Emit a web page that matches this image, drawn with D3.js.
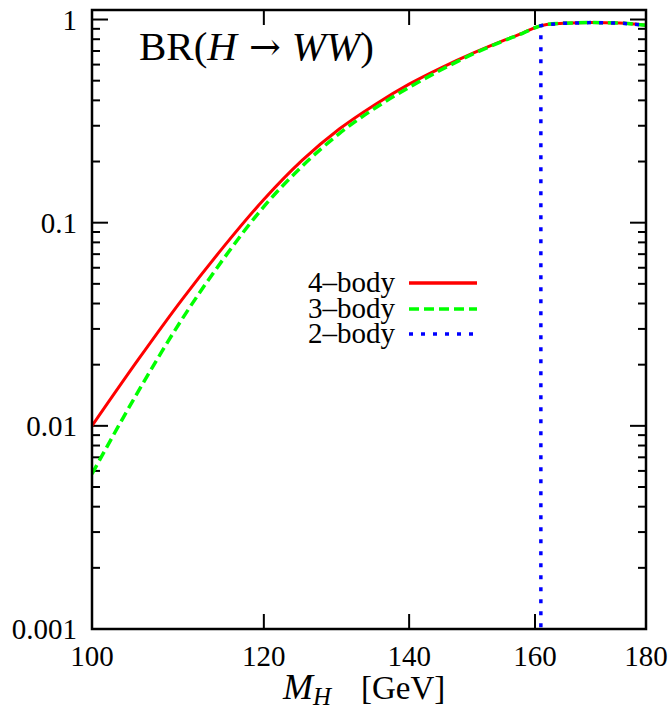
<!DOCTYPE html>
<html>
<head>
<meta charset="utf-8">
<script src="https://cdn.jsdelivr.net/npm/d3@7"></script>
<style>
body { margin: 0; background: #fff; }
text { font-family: "Liberation Serif", "DejaVu Serif", serif; fill: #000; }
</style>
</head>
<body>
<div id="chart"></div>
<script>
// Higgs mass points (GeV) and branching ratios
var massPoints = [100, 105, 110, 115, 120, 125, 130, 135, 140, 145, 150, 155, 158, 160, 162, 165, 170, 175, 180];
var br4body = [0.0100, 0.0211, 0.0417, 0.0762, 0.130, 0.203, 0.289, 0.381, 0.481, 0.582, 0.687, 0.794, 0.859, 0.912, 0.946, 0.958, 0.966, 0.961, 0.937];
var br3body = [0.0058, 0.0147, 0.0334, 0.0666, 0.120, 0.190, 0.2745, 0.366, 0.463, 0.569, 0.681, 0.791, 0.858, 0.911, 0.946, 0.958, 0.966, 0.961, 0.937];
// 2-body only opens above the WW threshold
var mass2body = [161, 161, 162, 165, 170, 175, 180];
var br2body = [0.00001, 0.932, 0.946, 0.958, 0.966, 0.961, 0.937];

var xTicks = [100, 120, 140, 160, 180];
var yTicks = [0.001, 0.01, 0.1, 1];
var yTickLabels = ["0.001", "0.01", "0.1", "1"];
var seriesNames = ["4\u2013body", "3\u2013body", "2\u2013body"];

var width = 672, height = 713;
var plot = {left: 92, right: 646, top: 10, bottom: 629}; // frame edges in px

var x = d3.scaleLog().domain([100, 180]).range([plot.left, plot.right]);
var y = d3.scaleLog().domain([0.001, 1.114]).range([plot.bottom, plot.top]);

var svg = d3.select("#chart").append("svg")
	.attr("width", width)
	.attr("height", height);

svg.append("defs").append("clipPath").attr("id", "clip")
	.append("rect")
		.attr("x", plot.left).attr("y", plot.top)
		.attr("width", plot.right - plot.left)
		.attr("height", plot.bottom - plot.top);

//minor ticks on y (2..9 in each decade)
var minor = [];
[0.001, 0.01, 0.1].forEach(function(dec) {
	for (var k = 2; k <= 9; k++) minor.push(dec * k);
});

var ticks = svg.append("g").attr("stroke", "#000").attr("stroke-width", 2);

// y ticks left and right
[plot.left, plot.right].forEach(function(x0) {
	var dir = x0 == plot.left ? 1 : -1;
	ticks.selectAll(null).data(yTicks).enter().append("line")
		.attr("x1", x0).attr("x2", x0 + dir * 16)
		.attr("y1", d => y(d)).attr("y2", d => y(d));
	ticks.selectAll(null).data(minor).enter().append("line")
		.attr("x1", x0).attr("x2", x0 + dir * 8)
		.attr("y1", d => y(d)).attr("y2", d => y(d));
});

// x ticks bottom and top
[plot.bottom, plot.top].forEach(function(y0) {
	var dir = y0 == plot.bottom ? -1 : 1;
	ticks.selectAll(null).data(xTicks).enter().append("line")
		.attr("x1", d => x(d)).attr("x2", d => x(d))
		.attr("y1", y0).attr("y2", y0 + dir * 15);
});

//curves
var line = d3.line()
	.x(d => x(d[0]))
	.y(d => y(d[1]))
	.curve(d3.curveMonotoneX);

var curves = svg.append("g").attr("clip-path", "url(#clip)").attr("fill", "none");

curves.append("path")
	.datum(massPoints.map((m, i) => [m, br4body[i]]))
	.attr("d", line)
	.attr("stroke", "#ff0000")
	.attr("stroke-width", 3);

curves.append("path")
	.datum(massPoints.map((m, i) => [m, br3body[i]]))
	.attr("d", line)
	.attr("stroke", "#00ff00")
	.attr("stroke-width", 3.5)
	.attr("stroke-dasharray", "10,5");

curves.append("path")
	.datum(mass2body.map((m, i) => [m, br2body[i]]))
	.attr("d", line.curve(d3.curveLinear))
	.attr("stroke", "#0000ff")
	.attr("stroke-width", 3.5)
	.attr("stroke-dasharray", "4,8");

//frame
svg.append("rect")
	.attr("x", plot.left).attr("y", plot.top)
	.attr("width", plot.right - plot.left)
	.attr("height", plot.bottom - plot.top)
	.attr("fill", "none")
	.attr("stroke", "#000")
	.attr("stroke-width", 2.5);

//tick labels
svg.selectAll(".xl").data(xTicks).enter().append("text")
	.attr("x", d => x(d))
	.attr("y", 666)
	.attr("text-anchor", "middle")
	.attr("font-size", 29)
	.text(d => d);

svg.selectAll(".yl").data(yTicks).enter().append("text")
	.attr("x", 77)
	.attr("y", d => y(d) + 10)
	.attr("text-anchor", "end")
	.attr("font-size", 29)
	.text((d, i) => yTickLabels[i]);

//axis title
var xt = svg.append("text")
	.attr("x", 283).attr("y", 699)
	.attr("font-size", 33);
xt.append("tspan").attr("font-style", "italic").attr("font-size", 36).text("M");
xt.append("tspan").attr("font-style", "italic").attr("font-size", 25).attr("dy", 6).text("H");
xt.append("tspan").attr("x", 361).attr("dy", -6).text("[GeV]");

//title
var tt = svg.append("text")
	.attr("x", 139).attr("y", 60)
	.attr("font-size", 41);
tt.append("tspan").text("BR(");
tt.append("tspan").attr("font-style", "italic").text("H");
tt.append("tspan").attr("font-family", "DejaVu Serif").attr("font-size", 38).attr("dx", 12).text("\u2192");
tt.append("tspan").attr("font-style", "italic").attr("dx", 11).text("WW");
tt.append("tspan").text(")");

//legend
var legY = [283, 309, 334];
var legStyles = [
	{color: "#ff0000", dash: null},
	{color: "#00ff00", dash: "10,5"},
	{color: "#0000ff", dash: "4,8"}
];
var leg = svg.append("g");
seriesNames.forEach(function(name, i) {
	leg.append("text")
		.attr("x", 395).attr("y", legY[i] + 9)
		.attr("text-anchor", "end")
		.attr("font-size", 29)
		.text(name);
	leg.append("line")
		.attr("x1", 409).attr("x2", 477)
		.attr("y1", legY[i]).attr("y2", legY[i])
		.attr("stroke", legStyles[i].color)
		.attr("stroke-width", 3.5)
		.attr("stroke-dasharray", legStyles[i].dash);
});
</script>
</body>
</html>
